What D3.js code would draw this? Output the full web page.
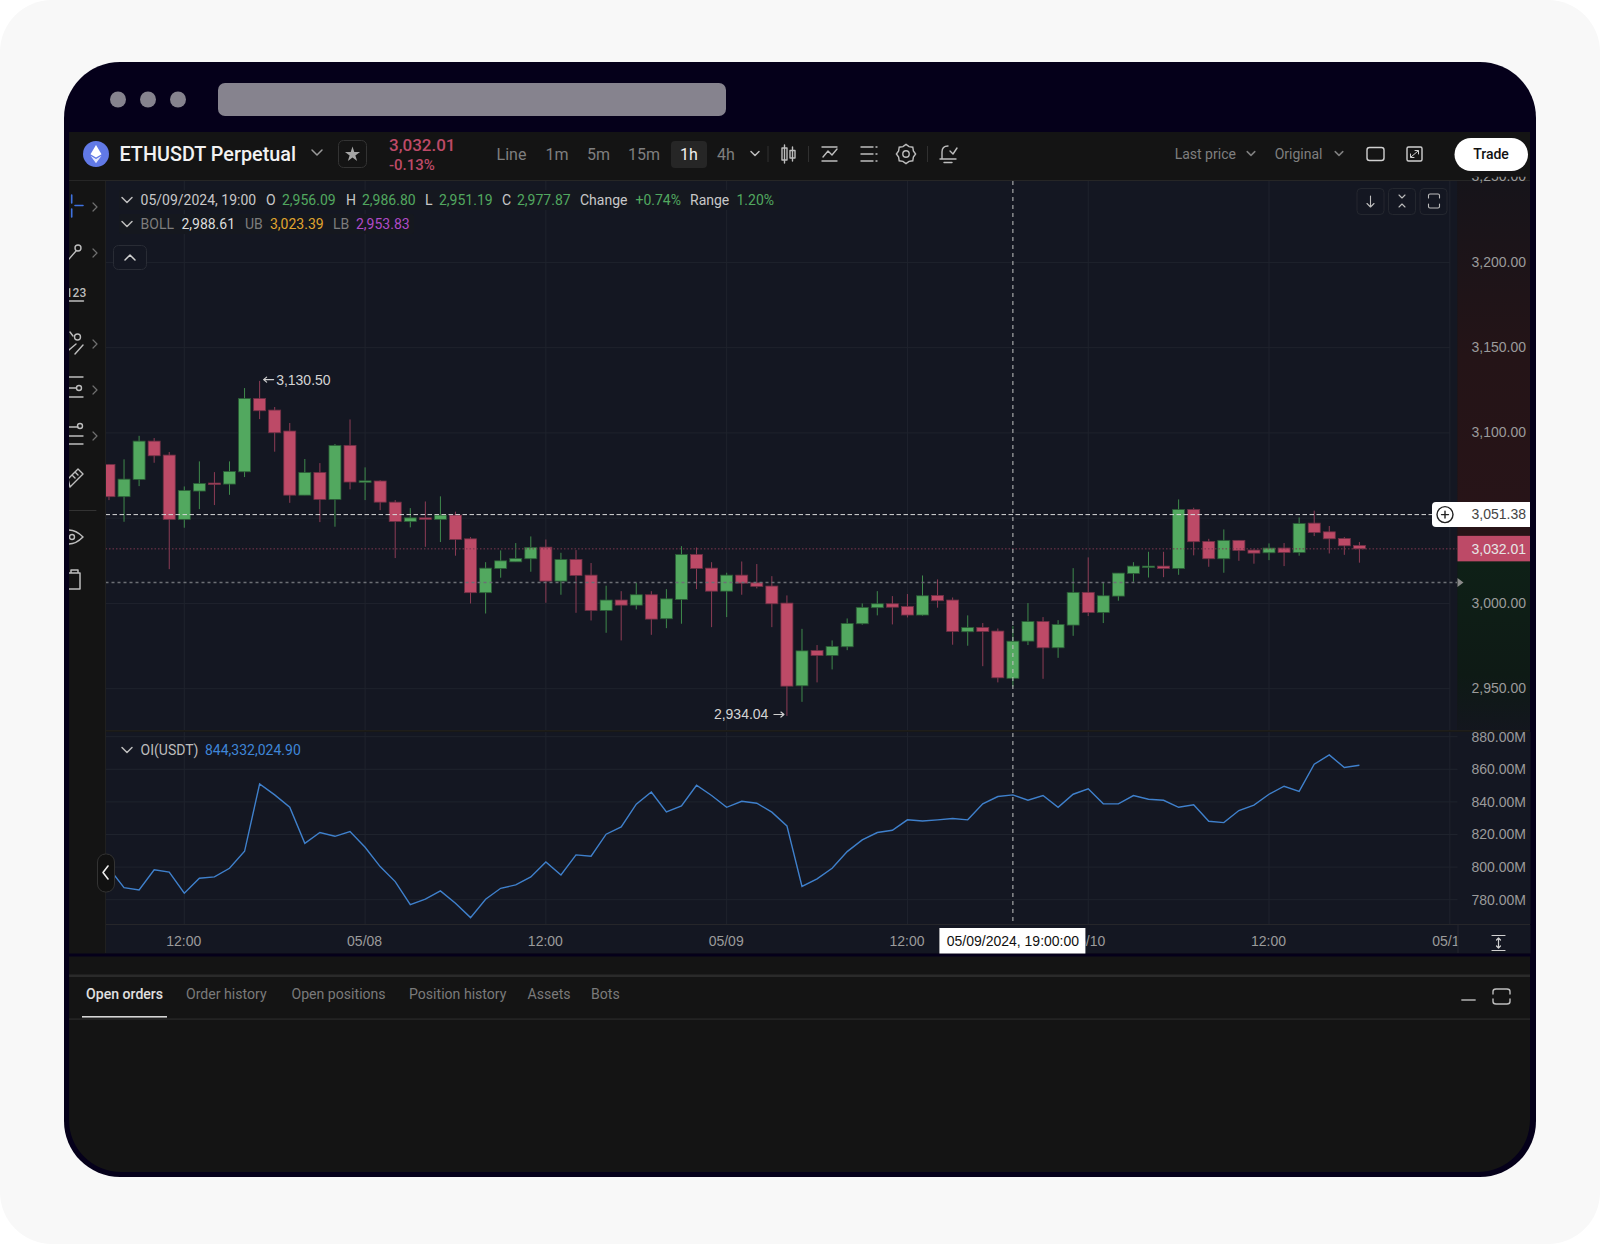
<!DOCTYPE html>
<html>
<head>
<meta charset="utf-8">
<title>ETHUSDT Perpetual</title>
<script src="https://cdn.jsdelivr.net/npm/d3@7"></script>
<style>
  html, body { margin: 0; padding: 0; background: #fff; }
  svg { display: block; }
  text { font-family: Roboto, sans-serif; }
  .axis text { font-family: "Liberation Sans", Arial, sans-serif; font-size: 14px; fill: #9b9b9b; }
</style>
</head>
<body>
<svg id="chart" width="1600" height="1244"></svg>
<script>
// --- Data (hourly candles, 05/07 07:00 to 05/10 18:00) ---
const firstHour = Date.UTC(2024, 4, 7, 7);

const opens = [
  3081.5, 3062.6, 3072.7, 3095.2, 3087.0, 3049.3, 3065.9, 3070.6, 3070.0, 3077.2,
  3120.2, 3113.4, 3101.1, 3063.5, 3076.8, 3061.0, 3092.7, 3071.2, 3071.8, 3059.4,
  3048.1, 3050.2, 3049.3, 3051.8, 3037.9, 3006.3, 3020.5, 3024.4, 3026.2, 3033.0,
  3013.1, 3025.8, 3016.6, 2995.9, 3002.0, 2999.0, 3005.1, 2991.0, 3002.3, 3028.7,
  3020.7, 3007.2, 3016.6, 3012.1, 3010.2, 3000.2, 2951.7, 2972.4, 2969.5, 2974.6,
  2988.1, 2997.5, 2999.8, 2998.2, 2993.2, 3004.7, 3002.0, 2983.4, 2985.9, 2983.8,
  2956.09, 2977.9, 2989.4, 2974.0, 2987.3, 3006.5, 2994.7, 3004.3, 3017.6, 3021.5,
  3021.9, 3020.5, 3055.1, 3036.4, 3026.2, 3037.0, 3031.3, 3029.7, 3032.5, 3029.9,
  3047.1, 3042.0, 3038.1, 3034.0
];
const highs = [
  3081.8, 3084.5, 3098.3, 3097.0, 3088.8, 3068.6, 3083.3, 3077.0, 3083.3, 3126.3,
  3130.5, 3115.2, 3105.8, 3084.7, 3082.3, 3093.5, 3107.9, 3079.8, 3072.3, 3060.6,
  3055.9, 3059.8, 3062.8, 3053.8, 3038.9, 3024.2, 3031.1, 3035.4, 3039.3, 3037.5,
  3029.7, 3031.3, 3023.7, 3010.4, 3007.2, 3012.1, 3007.2, 3008.4, 3033.6, 3032.8,
  3024.2, 3018.0, 3024.6, 3023.1, 3016.0, 3004.7, 2985.1, 2975.6, 2978.3, 2991.2,
  3000.0, 3007.2, 3004.3, 3005.5, 3016.4, 3014.1, 3003.5, 2993.0, 2988.5, 2985.3,
  2986.8, 3000.2, 2992.0, 2990.2, 3020.7, 3027.0, 3012.5, 3017.8, 3024.2, 3030.3,
  3030.3, 3061.0, 3056.1, 3037.9, 3043.4, 3037.1, 3031.7, 3035.2, 3035.4, 3050.4,
  3054.4, 3045.4, 3038.9, 3036.0
];
const lows = [
  3060.6, 3047.9, 3068.8, 3082.5, 3020.1, 3044.4, 3055.3, 3057.7, 3063.7, 3074.1,
  3108.1, 3089.0, 3059.0, 3063.5, 3047.7, 3045.0, 3066.9, 3060.6, 3054.7, 3026.6,
  3044.6, 3033.2, 3036.0, 3028.0, 3000.0, 2994.1, 3015.1, 3024.4, 3018.6, 3000.4,
  3005.1, 2994.5, 2990.0, 2982.8, 2978.3, 2996.5, 2981.6, 2985.5, 2988.1, 3008.4,
  2986.1, 2992.0, 3005.1, 3008.8, 2986.1, 2934.04, 2942.3, 2953.7, 2961.3, 2972.6,
  2987.5, 2993.0, 2987.7, 2991.8, 2992.8, 2997.5, 2975.8, 2975.2, 2963.2, 2953.7,
  2951.19, 2975.6, 2955.8, 2968.1, 2981.0, 2992.6, 2988.5, 3001.6, 3012.7, 3015.2,
  3015.4, 3016.8, 3028.2, 3021.5, 3018.0, 3025.0, 3023.3, 3025.4, 3021.9, 3028.0,
  3039.5, 3029.3, 3028.5, 3023.9
];
const closes = [
  3062.6, 3072.9, 3095.2, 3086.6, 3049.3, 3066.3, 3070.4, 3070.0, 3077.4, 3120.2,
  3113.0, 3100.1, 3063.5, 3076.8, 3061.0, 3092.7, 3071.2, 3071.9, 3059.4, 3048.1,
  3050.2, 3049.3, 3051.8, 3037.5, 3006.3, 3020.7, 3025.0, 3026.4, 3032.8, 3013.1,
  3025.8, 3016.4, 2995.9, 3002.0, 2999.0, 3005.1, 2990.8, 3002.7, 3028.7, 3020.5,
  3007.2, 3016.6, 3011.9, 3010.0, 2999.8, 2951.5, 2972.2, 2969.5, 2974.8, 2988.3,
  2997.7, 2999.8, 2997.8, 2993.2, 3004.5, 3001.6, 2983.6, 2985.9, 2983.6, 2956.4,
  2977.87, 2989.4, 2974.0, 2987.7, 3006.5, 2994.7, 3004.5, 3017.8, 3021.9, 3021.9,
  3020.5, 3055.1, 3036.2, 3026.2, 3037.0, 3031.1, 3029.5, 3032.5, 3029.9, 3046.9,
  3041.6, 3037.9, 3033.8, 3032.01
];
// Open interest, in millions of USDT
const oiValues = [
  799.3, 787.4, 786.0, 798.3, 796.9, 784.0, 793.2, 794.0, 799.3, 809.7,
  851.0, 844.3, 836.7, 814.6, 821.2, 818.9, 821.8, 812.2, 800.3, 791.1,
  777.0, 780.3, 785.4, 777.8, 769.0, 780.3, 787.0, 789.1, 794.0, 803.2,
  795.2, 807.5, 806.7, 820.2, 824.7, 838.6, 846.1, 833.9, 837.5, 850.2,
  843.9, 836.7, 840.4, 839.2, 833.7, 825.3, 788.1, 792.8, 799.3, 809.5,
  816.7, 821.2, 822.6, 829.0, 828.3, 829.0, 829.8, 829.0, 838.8, 843.3,
  844.33, 841.0, 843.9, 836.7, 844.7, 848.0, 838.8, 838.8, 843.9, 841.6,
  841.0, 836.7, 838.2, 828.1, 827.3, 834.7, 838.0, 844.7, 849.6, 846.5,
  863.1, 868.8, 861.1, 862.5
];

const priceTicks = [2950, 3000, 3050, 3100, 3150, 3200, 3250];
// 3,050.00 sits under the white crosshair tag, so it gets a grid line and no label
const priceLabels = [2950, 3000, 3100, 3150, 3200, 3250];
const oiTicks = [780, 800, 820, 840, 860, 880];
const timeTicks = [
  Date.UTC(2024, 4, 7, 12), Date.UTC(2024, 4, 8, 0), Date.UTC(2024, 4, 8, 12), Date.UTC(2024, 4, 9, 0),
  Date.UTC(2024, 4, 9, 12), Date.UTC(2024, 4, 10, 0), Date.UTC(2024, 4, 10, 12), Date.UTC(2024, 4, 11, 0)
];
const timeLabels = ['12:00', '05/08', '12:00', '05/09', '12:00', '05/10', '12:00', '05/11'];

const lastPrice = 3032.01;
const liquidPrice = 3012.3;
const crossPrice = 3052.1;
const crossTime = Date.UTC(2024, 4, 9, 19);
const highTime = Date.UTC(2024, 4, 7, 17);
const lowTime = Date.UTC(2024, 4, 9, 4);

const intervals = ['Line', '1m', '5m', '15m', '1h', '4h'];
const tabs = ['Open orders', 'Order history', 'Open positions', 'Position history', 'Assets', 'Bots'];

// --- Colours ---
const RED = '#bd4a67', GREEN = '#52a85f', PANEL = '#141414', CHART_BG = '#141722', GRID = '#1f232d';

const svg = d3.select('#chart');
const defs = svg.append('defs');

// --- Scales ---
const x = d3.scaleUtc()
  .domain([Date.UTC(2024, 4, 7, 12), Date.UTC(2024, 4, 11, 0)])
  .range([184.3, 1449.8]);
const y = d3.scaleLinear().domain([2950, 3200]).range([688.7, 262.4]);
const yOi = d3.scaleLinear().domain([780, 880]).range([899.7, 736.7]);

const candles = opens.map((o, i) => ({
  t: firstHour + i * 3600000, o, h: highs[i], l: lows[i], c: closes[i], oi: oiValues[i]
}));

// helper for the plain interface text
function label(parent, px, py, str, opts = {}) {
  return parent.append('text')
    .attr('x', px).attr('y', py)
    .attr('dy', '0.35em')
    .attr('text-anchor', opts.anchor || 'start')
    .attr('fill', opts.color || '#999')
    .attr('font-size', opts.size || 14)
    .attr('font-weight', opts.weight || 400)
    .style('font-family', opts.font || null)
    .text(str);
}
function icon(parent, d, opts = {}) {
  return parent.append('path').attr('d', d)
    .attr('fill', opts.fill || 'none')
    .attr('stroke', opts.stroke || '#bdbdbd')
    .attr('stroke-width', opts.width || 1.4)
    .attr('stroke-linecap', 'round')
    .attr('stroke-linejoin', 'round');
}
function chevronDown(parent, cx, cy, color, size = 5) {
  icon(parent, `M${cx - size},${cy - size / 2}L${cx},${cy + size / 2}L${cx + size},${cy - size / 2}`, { stroke: color || '#bdbdbd', width: 1.5 });
}
const SANS = '"Liberation Sans", Arial, sans-serif';

// --- Page and device frame ---
svg.append('rect').attr('width', 1600).attr('height', 1244).attr('rx', 52).attr('fill', '#f8f8f8');
svg.append('rect').attr('x', 64).attr('y', 62).attr('width', 1472).attr('height', 1115).attr('rx', 56).attr('fill', '#05001a');
[118, 148, 178].forEach(cx => svg.append('circle').attr('cx', cx).attr('cy', 99.5).attr('r', 8).attr('fill', '#86838e'));
svg.append('rect').attr('x', 218).attr('y', 83).attr('width', 508).attr('height', 33).attr('rx', 7).attr('fill', '#86838e');

// inner panel, square on top and rounded at the bottom
const panelPath = 'M69,132H1530V1120A52,52 0 0 1 1478,1172H121A52,52 0 0 1 69,1120Z';
svg.append('path').attr('d', panelPath).attr('fill', PANEL);

defs.append('clipPath').attr('id', 'panel-clip').append('path').attr('d', panelPath);
defs.append('clipPath').attr('id', 'main-clip').append('rect')
  .attr('x', 105.5).attr('y', 181).attr('width', 1352).attr('height', 549);
defs.append('clipPath').attr('id', 'oi-clip').append('rect')
  .attr('x', 105.5).attr('y', 732).attr('width', 1352).attr('height', 192);
defs.append('clipPath').attr('id', 'time-clip').append('rect')
  .attr('x', 105.5).attr('y', 925).attr('width', 1352).attr('height', 29);
defs.append('clipPath').attr('id', 'price-clip').append('rect')
  .attr('x', 1457.5).attr('y', 176.7).attr('width', 72.5).attr('height', 553);

// --- Chart backgrounds ---
svg.append('rect').attr('x', 105.5).attr('y', 181).attr('width', 1352).attr('height', 549).attr('fill', CHART_BG);
svg.append('rect').attr('x', 105.5).attr('y', 732).attr('width', 1425).attr('height', 192).attr('fill', CHART_BG);
svg.append('rect').attr('x', 105.5).attr('y', 925).attr('width', 1425).attr('height', 28.5).attr('fill', CHART_BG);
svg.append('rect').attr('x', 69).attr('y', 953.5).attr('width', 1461).attr('height', 3).attr('fill', '#05001a');
svg.append('rect').attr('x', 69).attr('y', 730).attr('width', 1461).attr('height', 1.5).attr('fill', '#1f1e1b');
svg.append('rect').attr('x', 69).attr('y', 924).attr('width', 1461).attr('height', 1).attr('fill', '#26262a');

const strip = defs.append('linearGradient').attr('id', 'price-strip').attr('x1', 0).attr('y1', 0).attr('x2', 0).attr('y2', 1);
[[0, '#16141a'], [0.32, '#241417'], [0.66, '#281418'], [0.665, '#0e2117'], [0.9, '#0e1a15'], [1, '#13161e']]
  .forEach(s => strip.append('stop').attr('offset', s[0]).attr('stop-color', s[1]));
svg.append('rect').attr('x', 1457.5).attr('y', 181).attr('width', 72.5).attr('height', 549).attr('fill', 'url(#price-strip)');

// --- Grid ---
const gridMain = svg.append('g').attr('clip-path', 'url(#main-clip)');
const gridOi = svg.append('g').attr('clip-path', 'url(#oi-clip)');
[gridMain, gridOi].forEach((g, idx) => {
  const top = idx === 0 ? 181 : 732, bottom = idx === 0 ? 730 : 924;
  g.selectAll('line.v').data(timeTicks).join('line')
    .attr('class', 'v')
    .attr('x1', d => x(d)).attr('x2', d => x(d))
    .attr('y1', top).attr('y2', bottom)
    .attr('stroke', GRID);
});
gridMain.selectAll('line.h').data(priceTicks).join('line')
  .attr('class', 'h')
  .attr('x1', 105.5).attr('x2', 1450)
  .attr('y1', d => y(d)).attr('y2', d => y(d))
  .attr('stroke', GRID);
gridOi.selectAll('line.h').data(oiTicks).join('line')
  .attr('class', 'h')
  .attr('x1', 105.5).attr('x2', 1458)
  .attr('y1', d => yOi(d)).attr('y2', d => yOi(d))
  .attr('stroke', GRID);

// --- Axes (the price axis comes later, it lies over the toolbar) ---
function cleanAxis(g) {
  g.attr('class', 'axis');
  g.select('.domain').remove();
  g.selectAll('.tick line').remove();
}
svg.append('g')
  .attr('transform', 'translate(1526,0)')
  .call(d3.axisLeft(yOi).tickValues(oiTicks).tickSize(0).tickPadding(0).tickFormat(d => d.toFixed(2) + 'M'))
  .call(cleanAxis);
svg.append('g').attr('clip-path', 'url(#time-clip)').append('g')
  .attr('transform', 'translate(-1,930)')
  .call(d3.axisBottom(x).tickValues(timeTicks).tickSize(0).tickPadding(6).tickFormat((d, i) => timeLabels[i]))
  .call(cleanAxis);
svg.append('line').attr('x1', 1458).attr('x2', 1458).attr('y1', 925).attr('y2', 953).attr('stroke', '#24262e');

// --- Candles ---
const candleG = svg.append('g').attr('clip-path', 'url(#main-clip)');
candleG.selectAll('line.wick').data(candles).join('line')
  .attr('class', 'wick')
  .attr('x1', d => x(d.t)).attr('x2', d => x(d.t))
  .attr('y1', d => y(d.h)).attr('y2', d => y(d.l))
  .attr('stroke', d => d.c >= d.o ? '#3f8a4c' : '#8d3c55')
  .attr('stroke-width', 1);
candleG.selectAll('rect.body').data(candles).join('rect')
  .attr('class', 'body')
  .attr('x', d => x(d.t) - 6)
  .attr('width', 12)
  .attr('y', d => y(Math.max(d.o, d.c)))
  .attr('height', d => Math.max(1.5, Math.abs(y(d.o) - y(d.c))))
  .attr('fill', d => d.c >= d.o ? GREEN : RED)
  .attr('stroke', d => d.c >= d.o ? '#2a5a36' : '#6f3045')
  .attr('stroke-width', 0.8);

// --- Price lines ---
const priceLines = svg.append('g').attr('clip-path', 'url(#main-clip)');
priceLines.append('line')
  .attr('x1', 105.5).attr('x2', 1457).attr('y1', y(lastPrice)).attr('y2', y(lastPrice))
  .attr('stroke', '#7a3850').attr('stroke-dasharray', '1.5,2');
priceLines.append('line')
  .attr('x1', 105.5).attr('x2', 1457).attr('y1', y(liquidPrice)).attr('y2', y(liquidPrice))
  .attr('stroke', '#6c6f75').attr('stroke-width', 1.4).attr('stroke-dasharray', '3,3');
svg.append('path')
  .attr('d', `M1457.5,${y(liquidPrice) - 4.5}L1463.5,${y(liquidPrice)}L1457.5,${y(liquidPrice) + 4.5}Z`)
  .attr('fill', '#8a8a8a');

// high / low notes, anchored to their candles
const notes = svg.append('g');
const highY = y(3130.5) - 1.3, lowY = y(2934.04) - 1.4;
const highX = x(highTime), lowX = x(lowTime);
icon(notes, `M${highX + 14},${highY}H${highX + 4}M${highX + 7},${highY - 2.5}L${highX + 4},${highY}L${highX + 7},${highY + 2.5}`, { stroke: '#cfcfcf', width: 1.2 });
label(notes, highX + 16.5, highY, '3,130.50', { color: '#d4d4d4', font: SANS });
icon(notes, `M${lowX - 13},${lowY}H${lowX - 3}M${lowX - 6},${lowY - 2.5}L${lowX - 3},${lowY}L${lowX - 6},${lowY + 2.5}`, { stroke: '#cfcfcf', width: 1.2 });
label(notes, lowX - 18.5, lowY, '2,934.04', { anchor: 'end', color: '#d4d4d4', font: SANS });

// --- Open interest line ---
const oiLine = d3.line().x(d => x(d.t)).y(d => yOi(d.oi));
svg.append('g').attr('clip-path', 'url(#oi-clip)').append('path')
  .datum(candles)
  .attr('d', oiLine)
  .attr('fill', 'none')
  .attr('stroke', '#3f80cc')
  .attr('stroke-width', 1.4);

// --- Crosshair ---
svg.append('line')
  .attr('x1', x(crossTime)).attr('x2', x(crossTime)).attr('y1', 181).attr('y2', 924)
  .attr('stroke', '#c4c4c4').attr('stroke-dasharray', '4,4');
svg.append('line')
  .attr('x1', 105.5).attr('x2', 1432).attr('y1', y(crossPrice)).attr('y2', y(crossPrice))
  .attr('stroke', '#d8d8d8').attr('stroke-dasharray', '4.5,2.5');

// white tags
svg.append('path')
  .attr('d', `M1530,${y(crossPrice) - 12.5}H1436a4,4 0 0 0 -4,4V${y(crossPrice) + 8.5}a4,4 0 0 0 4,4H1530Z`)
  .attr('fill', '#fff');
svg.append('circle').attr('cx', 1445).attr('cy', y(crossPrice)).attr('r', 8).attr('fill', 'none').attr('stroke', '#222').attr('stroke-width', 1.4);
icon(svg, `M1441.5,${y(crossPrice)}H1448.5M1445,${y(crossPrice) - 3.5}V${y(crossPrice) + 3.5}`, { stroke: '#222' });
label(svg, 1526, y(crossPrice), '3,051.38', { anchor: 'end', color: '#444', font: SANS });

svg.append('rect').attr('x', 1457.5).attr('y', y(lastPrice) - 13).attr('width', 72.5).attr('height', 25.5).attr('fill', RED);
label(svg, 1526, y(lastPrice), '3,032.01', { anchor: 'end', color: '#e6e6e6', font: SANS });

svg.append('rect').attr('x', x(crossTime) - 73.5).attr('y', 928).attr('width', 146).attr('height', 25.5).attr('fill', '#fff');
label(svg, x(crossTime), 941, '05/09/2024, 19:00:00', { anchor: 'middle', color: '#111', font: SANS });

// --- Legends ---
const legend = svg.append('g');
legend.append('rect').attr('x', 119).attr('y', 190).attr('width', 660).attr('height', 20).attr('rx', 2).attr('fill', '#15181f');
legend.append('rect').attr('x', 119).attr('y', 214).attr('width', 295).attr('height', 20).attr('rx', 2).attr('fill', '#15181f');
chevronDown(legend, 127, 200);
chevronDown(legend, 127, 224);
chevronDown(legend, 127, 750);
const ohlcRow = [
  [140.6, '05/09/2024, 19:00', '#c8c8c8'], [266, 'O', '#c8c8c8'], [282, '2,956.09', GREEN],
  [346, 'H', '#c8c8c8'], [362, '2,986.80', GREEN], [425, 'L', '#c8c8c8'], [439, '2,951.19', GREEN],
  [502, 'C', '#c8c8c8'], [517, '2,977.87', GREEN], [580, 'Change', '#c8c8c8'], [635.5, '+0.74%', GREEN],
  [690, 'Range', '#c8c8c8'], [736.5, '1.20%', GREEN]
];
ohlcRow.forEach(r => label(legend, r[0], 200, r[1], { color: r[2] }));
const bollRow = [
  [140.6, 'BOLL', '#7d7d7d'], [181.4, '2,988.61', '#dcdcdc'], [245, 'UB', '#7d7d7d'],
  [270, '3,023.39', '#e0a52e'], [333, 'LB', '#7d7d7d'], [356, '2,953.83', '#b04bc8']
];
bollRow.forEach(r => label(legend, r[0], 224, r[1], { color: r[2] }));
label(legend, 140.6, 750, 'OI(USDT)', { color: '#bdbdbd' });
label(legend, 205, 750, '844,332,024.90', { color: '#3f86d8' });

// collapse button and chart controls
legend.append('rect').attr('x', 113.5).attr('y', 245.5).attr('width', 33).attr('height', 24).attr('rx', 5).attr('fill', CHART_BG).attr('stroke', '#292c35');
icon(legend, 'M125,260L130,255L135,260', { stroke: '#d0d0d0', width: 1.5 });
[1357, 1388.5, 1420].forEach(bx => legend.append('rect').attr('x', bx).attr('y', 188.5).attr('width', 27).attr('height', 26).attr('rx', 4).attr('fill', 'none').attr('stroke', '#24272f'));
icon(legend, 'M1370.5,196V207M1367,203.5L1370.5,207L1374,203.5', { width: 1.1 });
icon(legend, 'M1399,195L1402,198L1405,195M1399,207L1402,204L1405,207', { width: 1.1 });
icon(legend, 'M1428.5,198V195.5Q1428.5,194 1430,194H1438Q1439.5,194 1439.5,195.5V198M1428.5,204V206.5Q1428.5,208 1430,208H1438Q1439.5,208 1439.5,206.5V204', { width: 1.1 });

// --- Top toolbar ---
const bar = svg.append('g');
bar.append('rect').attr('x', 69).attr('y', 132).attr('width', 1461).attr('height', 48).attr('fill', PANEL);
bar.append('rect').attr('x', 69).attr('y', 180).attr('width', 1461).attr('height', 1).attr('fill', '#262626');
bar.append('circle').attr('cx', 96).attr('cy', 154).attr('r', 13).attr('fill', '#6179e6');
bar.append('path').attr('d', 'M96,145L101.5,154.3L96,157.6L90.5,154.3Z').attr('fill', '#fff');
bar.append('path').attr('d', 'M90.5,155.8L96,159.1L101.5,155.8L96,163.2Z').attr('fill', '#e4e8fb');
label(bar, 119.5, 154, 'ETHUSDT Perpetual', { color: '#f2f2f2', size: 19.8, weight: 500 });
chevronDown(bar, 317, 152.5, '#9a9a9a');
bar.append('rect').attr('x', 338.5).attr('y', 140.5).attr('width', 28).attr('height', 27).attr('rx', 5).attr('fill', 'none').attr('stroke', '#333');
bar.append('path').attr('d', d3.symbol(d3.symbolStar, 70)()).attr('transform', 'translate(352.5,154.5)').attr('fill', '#a6a6a6');
label(bar, 389, 145, '3,032.01', { color: RED, size: 17, weight: 500 });
label(bar, 389, 165, '-0.13%', { color: RED, size: 15, weight: 500 });

bar.append('rect').attr('x', 671).attr('y', 141).attr('width', 36).attr('height', 27).attr('rx', 4).attr('fill', '#262626');
const intervalX = [511.5, 557, 598.5, 644, 689, 726];
intervals.forEach((t, i) => label(bar, intervalX[i], 154, t, { anchor: 'middle', size: 16, color: t === '1h' ? '#f0f0f0' : '#7f7f7f' }));
chevronDown(bar, 755, 153.5, '#bdbdbd', 4);
[768, 808.5, 927.5].forEach(sx => bar.append('line').attr('x1', sx).attr('x2', sx).attr('y1', 146).attr('y2', 162).attr('stroke', '#303030'));
icon(bar, 'M782,148H787V160H782ZM784.5,145V163M790,150.5H795V158H790ZM792.5,147V161');
icon(bar, 'M822,161H837M822,147H837M823,157L828,151L832,155L837,149');
icon(bar, 'M861,147H873M861,154H873M861,161H873M876,147H877M876,154H877M876,161H877');
bar.append('circle').attr('cx', 906).attr('cy', 154).attr('r', 3.2).attr('fill', 'none').attr('stroke', '#bdbdbd').attr('stroke-width', 1.4);
bar.append('path')
  .attr('d', d3.lineRadial().curve(d3.curveLinearClosed)(d3.range(16).map(i => [i * Math.PI / 8, i % 2 ? 8 : 9.6])))
  .attr('transform', 'translate(906,154)').attr('fill', 'none').attr('stroke', '#bdbdbd').attr('stroke-width', 1.4);
icon(bar, 'M940,159H956M942,159V152Q942,146 948,146M944,162.5H952M950,151L953,154L957,148');

label(bar, 1174.7, 154, 'Last price', { color: '#7f7f7f' });
chevronDown(bar, 1251, 153.5, '#7f7f7f', 3.8);
label(bar, 1274.7, 154, 'Original', { color: '#7f7f7f' });
chevronDown(bar, 1339, 153.5, '#7f7f7f', 3.8);
bar.append('rect').attr('x', 1367).attr('y', 147.5).attr('width', 17).attr('height', 13).attr('rx', 2.5).attr('fill', 'none').attr('stroke', '#d0d0d0').attr('stroke-width', 1.4);
bar.append('rect').attr('x', 1407).attr('y', 147).attr('width', 15).attr('height', 14).attr('rx', 1.5).attr('fill', 'none').attr('stroke', '#d0d0d0').attr('stroke-width', 1.4);
icon(bar, 'M1411,157L1418,151M1415,150.5H1418.5V154M1410.5,154V157.5H1414', { stroke: '#d0d0d0', width: 1 });
bar.append('rect').attr('x', 1454.5).attr('y', 138).attr('width', 73.5).attr('height', 33).attr('rx', 16.5).attr('fill', '#fff');
label(bar, 1491, 154, 'Trade', { anchor: 'middle', color: '#111', weight: 500 });

// price axis, its top tick is cut off just over the toolbar edge
svg.append('g').attr('clip-path', 'url(#price-clip)').append('g')
  .attr('transform', 'translate(1526,-0.7)')
  .call(d3.axisLeft(y).tickValues(priceLabels).tickSize(0).tickPadding(0).tickFormat(d3.format(',.2f')))
  .call(cleanAxis);

// --- Left tool strip ---
const tools = svg.append('g').attr('clip-path', 'url(#panel-clip)');
tools.append('rect').attr('x', 69).attr('y', 181).attr('width', 36.5).attr('height', 772).attr('fill', PANEL);
tools.append('line').attr('x1', 105.5).attr('x2', 105.5).attr('y1', 181).attr('y2', 953).attr('stroke', '#202020');
icon(tools, 'M71.7,195V203M71.7,209V217M75,205.5H83', { stroke: '#3f72e0', width: 1.6 });
icon(tools, 'M69,259L76,251', { stroke: '#bdbdbd' });
tools.append('circle').attr('cx', 78).attr('cy', 248).attr('r', 3).attr('fill', 'none').attr('stroke', '#bdbdbd').attr('stroke-width', 1.4);
label(tools, 76, 293, '123', { anchor: 'middle', size: 12, color: '#bdbdbd', weight: 500 });
icon(tools, 'M69,301H83.5');
icon(tools, 'M70,332L73,336M69,350L76,344M75,354L83,345');
tools.append('circle').attr('cx', 77.5).attr('cy', 337).attr('r', 3).attr('fill', 'none').attr('stroke', '#bdbdbd').attr('stroke-width', 1.4);
icon(tools, 'M69,377H83M69,388H76M69,397H83');
tools.append('circle').attr('cx', 79).attr('cy', 388).attr('r', 2.5).attr('fill', 'none').attr('stroke', '#bdbdbd').attr('stroke-width', 1.4);
icon(tools, 'M69,427H78M69,436H83M69,444H83');
tools.append('circle').attr('cx', 80).attr('cy', 426).attr('r', 2.5).attr('fill', 'none').attr('stroke', '#bdbdbd').attr('stroke-width', 1.4);
icon(tools, 'M70,487L83,474L78,469L68,479ZM72,475L75,478M75,472L78,475');
icon(tools, 'M69,510.5H96', { stroke: '#333', width: 1 });
icon(tools, 'M69,530Q76,530 83,537Q76,544 69,544', { width: 1.5 });
tools.append('circle').attr('cx', 72).attr('cy', 537).attr('r', 2.5).attr('fill', 'none').attr('stroke', '#bdbdbd').attr('stroke-width', 1.4);
icon(tools, 'M69,573H80V589H69M71,573V570H78V573', { width: 1.5 });
[207, 253, 344, 390, 436].forEach(cy => icon(tools, `M93,${cy - 4}L97,${cy}L93,${cy + 4}`, { stroke: '#6f6f6f', width: 1.2 }));

// side handle, over the tool strip edge
svg.append('rect').attr('x', 97.5).attr('y', 854).attr('width', 17).attr('height', 38).attr('rx', 8).attr('fill', '#111').attr('stroke', '#333');
icon(svg, 'M108,866L103,872.5L108,879', { stroke: '#eee', width: 1.6 });

// icon next to the time axis
icon(svg, 'M1492,935.5H1505M1492,950.5H1505M1498.5,938V948M1496.5,940L1498.5,938L1500.5,940M1496.5,946L1498.5,948L1500.5,946', { stroke: '#d0d0d0', width: 1.2 });

// --- Bottom panel ---
svg.append('rect').attr('x', 69).attr('y', 974.5).attr('width', 1461).attr('height', 2.5).attr('fill', '#2a2a2a');
svg.append('rect').attr('x', 69).attr('y', 1018.5).attr('width', 1461).attr('height', 1.2).attr('fill', '#2a2a2a');
const tabX = [86, 186, 291.5, 409, 527.5, 591];
tabs.forEach((t, i) => label(svg, tabX[i], 994.5, t, { size: 14.1, color: i === 0 ? '#e0e0e0' : '#7a7a7a', weight: i === 0 ? 500 : 400 }));
svg.append('rect').attr('x', 82).attr('y', 1016).attr('width', 85).attr('height', 1.6).attr('fill', '#d6d6d6');
icon(svg, 'M1462,1000H1475', { stroke: '#8a8a8a', width: 1.8 });
icon(svg, 'M1493,994V991.5Q1493,989 1496,989H1507Q1510,989 1510,991.5V994M1493,999V1001.5Q1493,1004 1496,1004H1507Q1510,1004 1510,1001.5V999', { stroke: '#bdbdbd' });
</script>
</body>
</html>
